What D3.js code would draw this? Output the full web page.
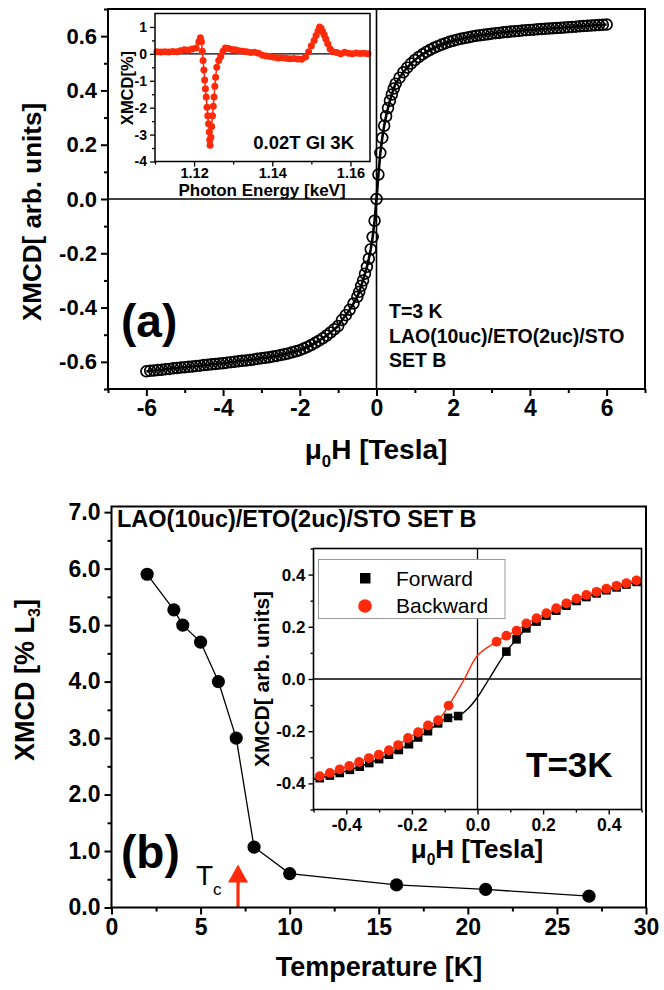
<!DOCTYPE html>
<meta charset="utf-8">
<style>
body { margin: 0; background: #fff; }
svg text { font-family: "Liberation Sans", Arial, sans-serif; font-weight: bold; fill: #000; }
</style>
<svg width="664" height="990"></svg>
<script src="https://d3js.org/d3.v7.min.js"></script>
<script>

// ---- panel (a): XMCD vs field, T = 3 K
var fieldA = [
  -6.0,-5.9,-5.8,-5.7,-5.6,-5.5,-5.4,-5.3,-5.2,-5.1,
  -5.0,-4.9,-4.8,-4.7,-4.6,-4.5,-4.4,-4.3,-4.2,-4.1,
  -4.0,-3.9,-3.8,-3.7,-3.6,-3.5,-3.4,-3.3,-3.2,-3.1,
  -3.0,-2.9,-2.8,-2.7,-2.6,-2.5,-2.4,-2.3,-2.2,-2.1,
  -2.0,-1.9,-1.8,-1.7,-1.6,-1.5,-1.4,-1.3,-1.2,-1.1,
  -1.0,-0.9,-0.8,-0.7,-0.6,
  -0.5,-0.45,-0.4,-0.35,-0.3,-0.25,-0.2,-0.15,-0.1,-0.05,
  0.0,
  0.05,0.1,0.15,0.2,0.25,0.3,0.35,0.4,0.45,0.5,
  0.6,0.7,0.8,0.9,1.0,
  1.1,1.2,1.3,1.4,1.5,1.6,1.7,1.8,1.9,2.0,
  2.1,2.2,2.3,2.4,2.5,2.6,2.7,2.8,2.9,3.0,
  3.1,3.2,3.3,3.4,3.5,3.6,3.7,3.8,3.9,4.0,
  4.1,4.2,4.3,4.4,4.5,4.6,4.7,4.8,4.9,5.0,
  5.1,5.2,5.3,5.4,5.5,5.6,5.7,5.8,5.9,6.0
];
var xmcdA = [
  -0.635,-0.633,-0.632,-0.630,-0.629,-0.627,-0.626,-0.624,-0.623,-0.621,
  -0.620,-0.618,-0.617,-0.615,-0.614,-0.612,-0.611,-0.609,-0.608,-0.606,
  -0.605,-0.603,-0.601,-0.600,-0.598,-0.596,-0.595,-0.593,-0.591,-0.589,
  -0.587,-0.585,-0.583,-0.580,-0.578,-0.575,-0.572,-0.569,-0.565,-0.561,
  -0.557,-0.551,-0.545,-0.538,-0.530,-0.522,-0.513,-0.503,-0.492,-0.480,
  -0.468,-0.446,-0.428,-0.408,-0.385,
  -0.360,-0.342,-0.320,-0.300,-0.275,-0.250,-0.220,-0.185,-0.140,-0.080,
  0.000,
  0.090,0.170,0.225,0.270,0.305,0.335,0.362,0.385,0.407,0.425,
  0.447,0.467,0.484,0.499,0.512,
  0.523,0.533,0.542,0.550,0.557,0.563,0.569,0.574,0.579,0.583,
  0.587,0.590,0.593,0.596,0.599,0.601,0.603,0.605,0.607,0.609,
  0.611,0.612,0.614,0.615,0.617,0.618,0.619,0.621,0.622,0.623,
  0.624,0.625,0.626,0.627,0.628,0.629,0.630,0.631,0.632,0.633,
  0.634,0.635,0.636,0.637,0.638,0.639,0.640,0.641,0.642,0.643
];
var notesA = ["T=3 K", "LAO(10uc)/ETO(2uc)/STO", "SET B"];

// ---- inset of (a): XMCD spectrum
var energyKeV = [
  1.1105,1.1115,1.1125,1.1135,1.1145,1.1155,1.1165,1.1175,1.1185,1.1195,
  1.1205,1.1212,1.1216,1.1219,1.1221,1.1223,1.1225,1.1227,1.1229,1.1231,
  1.1233,1.1235,1.1237,1.1239,1.1240,1.1241,1.1243,1.1245,1.1247,1.1249,
  1.1251,1.1253,1.1255,1.1258,1.1263,1.1268,1.1274,1.1280,1.1288,1.1297,
  1.1306,1.1315,1.1325,1.1335,1.1345,1.1355,1.1365,1.1375,1.1385,1.1395,
  1.1405,1.1415,1.1425,1.1435,1.1445,1.1455,1.1465,1.1475,1.1485,1.1493,
  1.1500,1.1507,1.1512,1.1517,1.1521,1.1525,1.1529,1.1533,1.1537,1.1542,
  1.1548,1.1555,1.1565,1.1575,1.1585,1.1595,1.1605,1.1615,1.1625,1.1635,1.1645
];
var xmcdPct = [
  0.08,0.07,0.08,0.07,0.09,0.08,0.12,0.15,0.14,0.18,
  0.22,0.45,0.60,0.45,0.10,-0.25,-0.60,-0.97,-1.30,-1.60,
  -1.98,-2.30,-2.60,-2.90,-3.20,-3.40,-3.10,-2.70,-2.30,-1.95,
  -1.60,-1.20,-0.87,-0.50,-0.25,-0.10,0.10,0.22,0.20,0.16,
  0.15,0.12,0.10,0.08,0.05,0.06,0.02,-0.05,-0.08,-0.10,
  -0.13,-0.15,-0.14,-0.16,-0.18,-0.17,-0.19,-0.20,-0.12,0.08,
  0.30,0.50,0.68,0.85,1.00,0.95,0.82,0.70,0.55,0.38,
  0.18,0.08,0.05,0.00,0.06,0.02,0.00,0.03,0.01,0.02,0.00
];

// ---- panel (b): XMCD vs temperature
var tempK = [2, 3.5, 4, 5, 6, 7, 8, 10, 16, 21, 26.8];
var xmcdL3 = [5.9, 5.27, 5.0, 4.7, 4.0, 3.0, 1.07, 0.6, 0.4, 0.32, 0.2];
var tcK = 7.1, tcArrowTop = 0.76;

// ---- inset of (b): low-field loops
var fwdH = [-0.481,-0.450,-0.420,-0.389,-0.359,-0.330,-0.300,-0.270,-0.240,-0.209,-0.181,-0.151,-0.120,-0.090,-0.059,
  0.088,0.119,0.149,0.180,0.210,0.240,0.271,0.302,0.332,0.363,0.393,0.424,0.454,0.485];
var fwdV = [-0.380,-0.370,-0.360,-0.348,-0.336,-0.322,-0.307,-0.290,-0.272,-0.250,-0.224,-0.200,-0.170,-0.149,-0.142,
  0.105,0.152,0.194,0.220,0.243,0.262,0.281,0.299,0.314,0.328,0.340,0.351,0.362,0.372];
var bwdH = [-0.481,-0.450,-0.420,-0.391,-0.361,-0.331,-0.301,-0.270,-0.242,-0.212,-0.181,-0.151,-0.120,-0.088,
  0.058,0.088,0.119,0.149,0.180,0.210,0.240,0.271,0.302,0.332,0.363,0.393,0.424,0.454,0.485];
var bwdV = [-0.372,-0.360,-0.346,-0.333,-0.318,-0.303,-0.290,-0.273,-0.253,-0.226,-0.204,-0.178,-0.158,-0.102,
  0.143,0.166,0.185,0.213,0.233,0.252,0.271,0.290,0.308,0.322,0.334,0.346,0.357,0.367,0.378];
// extra line vertices through the switching region (no markers there)
var fwdLineH = [-0.5, -0.03, 0.0, 0.035, 0.5], fwdLineV = [-0.385, -0.115, -0.07, 0.0, 0.378];
var bwdLineH = [-0.5, -0.04, 0.0, 0.5], bwdLineV = [-0.38, 0.0, 0.09, 0.383];
var legendNames = ["Forward", "Backward"];

var svg = d3.select("svg");
var red = "#ff2a0a";
var dash = function(f) { return function(d) { return f(d).replace("\u2212", "-"); }; };

function zip(a, b) { return a.map(function(v, i) { return [v, b[i]]; }); }

function axes(g, x, y, o) {
  var yb = y.range()[0], xl = x.range()[0];
  function tune(a) {
    a.attr("font-size", null).attr("font-family", null);
    a.select(".domain").remove();
    a.selectAll("line").attr("stroke-width", o.sw);
  }
  g.append("g").attr("transform", "translate(0," + yb + ")")
    .call(d3.axisBottom(x).tickValues(o.xMinor).tickSize(o.minor).tickFormat(""))
    .call(tune);
  g.append("g").attr("transform", "translate(0," + yb + ")")
    .call(d3.axisBottom(x).tickValues(o.xMajor).tickSize(o.major).tickPadding(o.padX).tickFormat(o.xFmt))
    .call(tune)
    .selectAll("text").style("font-size", o.fsX + "px");
  g.append("g").attr("transform", "translate(" + xl + ",0)")
    .call(d3.axisLeft(y).tickValues(o.yMinor).tickSize(o.minor).tickFormat(""))
    .call(tune);
  g.append("g").attr("transform", "translate(" + xl + ",0)")
    .call(d3.axisLeft(y).tickValues(o.yMajor).tickSize(o.major).tickPadding(o.padY).tickFormat(o.yFmt))
    .call(tune)
    .selectAll("text").style("font-size", o.fsY + "px");
  g.append("rect")
    .attr("x", xl).attr("y", y.range()[1])
    .attr("width", x.range()[1] - xl).attr("height", yb - y.range()[1])
    .attr("fill", "none").attr("stroke", "#000").attr("stroke-width", o.frame);
}

function zeroLines(g, x, y, both, w) {
  g.append("line").attr("x1", x.range()[0]).attr("x2", x.range()[1])
    .attr("y1", y(0)).attr("y2", y(0)).attr("stroke", "#000").attr("stroke-width", w);
  if (both) g.append("line").attr("x1", x(0)).attr("x2", x(0))
    .attr("y1", y.range()[0]).attr("y2", y.range()[1]).attr("stroke", "#000").attr("stroke-width", w);
}

function muLabel(g, cx, by, size) {
  var t = g.append("text").attr("x", cx).attr("y", by).attr("text-anchor", "middle").style("font-size", size + "px");
  t.append("tspan").text("\u03bc");
  t.append("tspan").attr("dy", size * 0.28).style("font-size", (size * 0.6) + "px").text("0");
  t.append("tspan").attr("dy", -size * 0.28).text("H [Tesla]");
}

// ================= panel (a)
var xA = d3.scaleLinear().domain([-7, 7]).range([108, 645]);
var yA = d3.scaleLinear().domain([-0.7, 0.7]).range([389, 9]);
var gA = svg.append("g");

zeroLines(gA, xA, yA, true, 1.6);

var ptsA = zip(fieldA, xmcdA);
gA.append("g").selectAll("circle").data(ptsA).enter().append("circle")
  .attr("cx", function(d) { return xA(d[0]); })
  .attr("cy", function(d) { return yA(d[1]); })
  .attr("r", 5.4)
  .attr("fill", "none").attr("stroke", "#000").attr("stroke-width", 1.7);
gA.append("path").datum(ptsA)
  .attr("d", d3.line().x(function(d) { return xA(d[0]); }).y(function(d) { return yA(d[1]); }))
  .attr("fill", "none").attr("stroke", "#000").attr("stroke-width", 2.6);

axes(gA, xA, yA, {
  xMajor: [-6, -4, -2, 0, 2, 4, 6], xMinor: [-7, -5, -3, -1, 1, 3, 5, 7],
  yMajor: [-0.6, -0.4, -0.2, 0, 0.2, 0.4, 0.6], yMinor: [-0.7, -0.5, -0.3, -0.1, 0.1, 0.3, 0.5, 0.7],
  xFmt: dash(d3.format("d")), yFmt: dash(d3.format(".1f")),
  major: 7, minor: 4, padX: 4, padY: 4, sw: 2, frame: 2, fsX: 23, fsY: 22
});

gA.append("text").attr("transform", "translate(41,212) rotate(-90)")
  .attr("text-anchor", "middle").style("font-size", "26px").text("XMCD[ arb. units]");
muLabel(gA, 376, 459, 28);

gA.append("text").attr("x", 121).attr("y", 337).style("font-size", "46px").text("(a)");
gA.selectAll("text.note").data(notesA).enter().append("text").attr("class", "note")
  .attr("x", 389).attr("y", function(d, i) { return 318 + i * 24.5; })
  .style("font-size", "19.5px").text(function(d) { return d; });

// ---- inset (a)
var xIA = d3.scaleLinear().domain([1.11, 1.165]).range([155, 370]);
var yIA = d3.scaleLinear().domain([-4, 1.5]).range([161.5, 13.5]);
var gIA = svg.append("g");
gIA.append("rect").attr("x", 155).attr("y", 13.5).attr("width", 215).attr("height", 148).attr("fill", "#fff");
zeroLines(gIA, xIA, yIA, false, 1.2);
var ptsIA = zip(energyKeV, xmcdPct);
gIA.append("path").datum(ptsIA)
  .attr("d", d3.line().x(function(d) { return xIA(d[0]); }).y(function(d) { return yIA(d[1]); }))
  .attr("fill", "none").attr("stroke", red).attr("stroke-width", 1.5);
gIA.append("g").selectAll("circle").data(ptsIA).enter().append("circle")
  .attr("cx", function(d) { return xIA(d[0]); })
  .attr("cy", function(d) { return yIA(d[1]); })
  .attr("r", 3.5).attr("fill", red);
axes(gIA, xIA, yIA, {
  xMajor: [1.12, 1.14, 1.16], xMinor: [1.11, 1.13, 1.15],
  yMajor: [-4, -3, -2, -1, 0, 1], yMinor: [-3.5, -2.5, -1.5, -0.5, 0.5],
  xFmt: d3.format(".2f"), yFmt: dash(d3.format("d")),
  major: 5, minor: 3, padX: 1, padY: 3, sw: 1.3, frame: 1.5, fsX: 14.5, fsY: 14
});
gIA.append("text").attr("transform", "translate(133,88) rotate(-90)")
  .attr("text-anchor", "middle").style("font-size", "16.5px").text("XMCD[%]");
gIA.append("text").attr("x", 262).attr("y", 196).attr("text-anchor", "middle")
  .style("font-size", "17px").text("Photon Energy [keV]");
gIA.append("text").attr("x", 354).attr("y", 149).attr("text-anchor", "end")
  .style("font-size", "18.5px").text("0.02T GI 3K");

// ================= panel (b)
var xB = d3.scaleLinear().domain([0, 30]).range([111.5, 646]);
var yB = d3.scaleLinear().domain([0, 7.1]).range([907.5, 506.5]);
var gB = svg.append("g");

var ptsB = zip(tempK, xmcdL3);
gB.append("path").datum(ptsB)
  .attr("d", d3.line().x(function(d) { return xB(d[0]); }).y(function(d) { return yB(d[1]); }))
  .attr("fill", "none").attr("stroke", "#000").attr("stroke-width", 1.3);
gB.append("g").selectAll("circle").data(ptsB).enter().append("circle")
  .attr("cx", function(d) { return xB(d[0]); })
  .attr("cy", function(d) { return yB(d[1]); })
  .attr("r", 6.6).attr("fill", "#000");

// Tc arrow
var ax = xB(tcK), aTop = yB(tcArrowTop), aBase = yB(0);
gB.append("line").attr("x1", ax).attr("x2", ax).attr("y1", aTop + 14).attr("y2", aBase)
  .attr("stroke", red).attr("stroke-width", 3.2);
gB.append("path")
  .attr("d", "M" + ax + "," + aTop + "L" + (ax + 10) + "," + (aTop + 18) + "L" + (ax - 10) + "," + (aTop + 18) + "Z")
  .attr("fill", red);
var tc = gB.append("text").attr("x", 196).attr("y", 885).style("font-weight", "normal").style("font-size", "28px");
tc.append("tspan").text("T");
tc.append("tspan").attr("dy", 10).style("font-size", "17px").text("c");

axes(gB, xB, yB, {
  xMajor: [0, 5, 10, 15, 20, 25, 30], xMinor: [2.5, 7.5, 12.5, 17.5, 22.5, 27.5],
  yMajor: [0, 1, 2, 3, 4, 5, 6, 7], yMinor: [0.5, 1.5, 2.5, 3.5, 4.5, 5.5, 6.5],
  xFmt: d3.format("d"), yFmt: d3.format(".1f"),
  major: 7, minor: 4, padX: 4, padY: 4, sw: 2, frame: 2, fsX: 23, fsY: 23
});

var yl = gB.append("text").attr("transform", "translate(34,680) rotate(-90)")
  .attr("text-anchor", "middle").style("font-size", "27px");
yl.append("tspan").text("XMCD [% L");
yl.append("tspan").attr("dy", 6).style("font-size", "16px").text("3");
yl.append("tspan").attr("dy", -6).text("]");
gB.append("text").attr("x", 379).attr("y", 976).attr("text-anchor", "middle")
  .style("font-size", "27px").text("Temperature [K]");
gB.append("text").attr("x", 121).attr("y", 868).style("font-size", "46px").text("(b)");
gB.append("text").attr("x", 117).attr("y", 527).style("font-size", "23.5px").text("LAO(10uc)/ETO(2uc)/STO SET B");

// ---- inset (b)
var xIB = d3.scaleLinear().domain([-0.5, 0.5]).range([313.5, 641.5]);
var yIB = d3.scaleLinear().domain([-0.5, 0.5]).range([809.5, 548.5]);
var gIB = svg.append("g");
gIB.append("rect").attr("x", 313.5).attr("y", 548.5).attr("width", 328).attr("height", 261).attr("fill", "#fff");
zeroLines(gIB, xIB, yIB, true, 1.3);

function mergeLine(h, v, lh, lv) {
  return zip(h, v).concat(zip(lh, lv)).sort(function(a, b) { return a[0] - b[0]; });
}
var lineIB = d3.line().curve(d3.curveCatmullRom)
  .x(function(d) { return xIB(d[0]); }).y(function(d) { return yIB(d[1]); });

gIB.append("path").datum(mergeLine(fwdH, fwdV, fwdLineH, fwdLineV))
  .attr("d", lineIB).attr("fill", "none").attr("stroke", "#000").attr("stroke-width", 1.4);
gIB.append("g").selectAll("rect").data(zip(fwdH, fwdV)).enter().append("rect")
  .attr("x", function(d) { return xIB(d[0]) - 4.3; })
  .attr("y", function(d) { return yIB(d[1]) - 4.3; })
  .attr("width", 8.6).attr("height", 8.6).attr("fill", "#000");
gIB.append("path").datum(mergeLine(bwdH, bwdV, bwdLineH, bwdLineV))
  .attr("d", lineIB).attr("fill", "none").attr("stroke", red).attr("stroke-width", 1.4);
gIB.append("g").selectAll("circle").data(zip(bwdH, bwdV)).enter().append("circle")
  .attr("cx", function(d) { return xIB(d[0]); })
  .attr("cy", function(d) { return yIB(d[1]); })
  .attr("r", 4.9).attr("fill", red);

axes(gIB, xIB, yIB, {
  xMajor: [-0.4, -0.2, 0, 0.2, 0.4], xMinor: [-0.5, -0.3, -0.1, 0.1, 0.3, 0.5],
  yMajor: [-0.4, -0.2, 0, 0.2, 0.4], yMinor: [-0.5, -0.3, -0.1, 0.1, 0.3, 0.5],
  xFmt: dash(d3.format(".1f")), yFmt: dash(d3.format(".1f")),
  major: 5, minor: 3, padX: 4, padY: 3, sw: 1.4, frame: 1.6, fsX: 17.5, fsY: 17
});

// legend
var lg = gIB.append("g");
lg.append("rect").attr("x", 318.5).attr("y", 559.5).attr("width", 186.5).attr("height", 59)
  .attr("fill", "#fff").attr("stroke", "#999").attr("stroke-width", 1);
lg.append("rect").attr("x", 360).attr("y", 573).attr("width", 10.5).attr("height", 10.5).attr("fill", "#000");
lg.append("circle").attr("cx", 365).attr("cy", 606).attr("r", 6.8).attr("fill", red);
lg.selectAll("text").data(legendNames).enter().append("text")
  .attr("x", 396).attr("y", function(d, i) { return 585.5 + i * 27; })
  .style("font-weight", "normal").style("font-size", "21px").text(function(d) { return d; });

gIB.append("text").attr("x", 526).attr("y", 777).style("font-size", "35px").text("T=3K");
gIB.append("text").attr("transform", "translate(269,679) rotate(-90)")
  .attr("text-anchor", "middle").style("font-size", "21px").text("XMCD[ arb. units]");
muLabel(gIB, 477, 858, 26);

</script>
